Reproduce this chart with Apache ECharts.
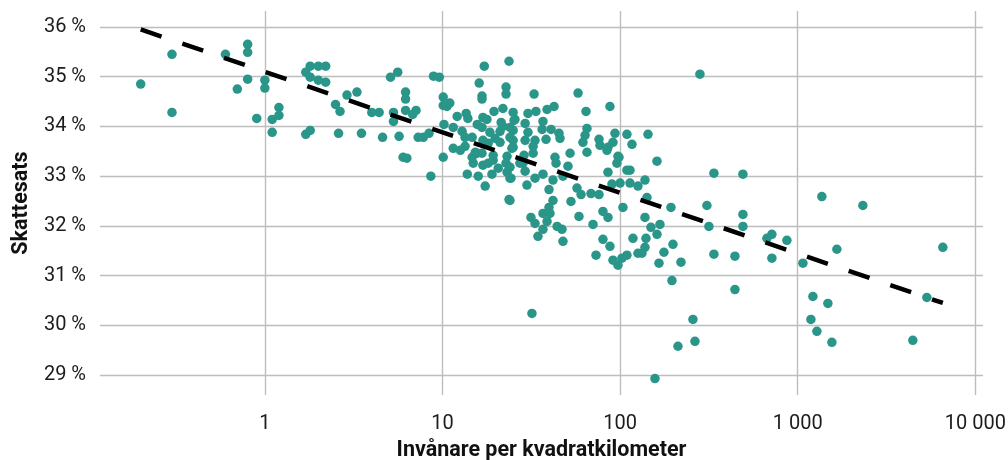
<!DOCTYPE html>
<html>
<head>
<meta charset="utf-8">
<script src="https://cdn.jsdelivr.net/npm/echarts@6/dist/echarts.min.js"></script>
<style>
  html, body { margin: 0; padding: 0; background: #fff; }
  #chart { width: 1008px; height: 460px; }
</style>
</head>
<body>
<div id="chart"></div>
<script>
// invånare per km² (x) och skattesats i % (y), en kommun per index
const density = [
  0.2, 0.3, 0.3, 0.6, 0.8, 0.8, 0.7, 0.8, 0.9, 1.0, 1.0, 1.1, 1.1, 1.2, 1.2,
  1.7, 1.8, 1.8, 2.0, 2.2, 2.0, 2.2, 1.7, 1.8, 2.5, 2.6, 2.65, 2.9, 3.3, 3.5,
  4.0, 4.4, 4.6, 5.1, 5.6, 5.3, 5.3, 5.7, 6.0, 6.3, 6.2, 6.2, 6.2, 7.1, 6.8,
  7.8, 7.3, 8.4, 8.9, 9.6, 17.2, 23.7, 16.1, 22.8, 22.8, 16.7, 16.7, 10.1, 10.1, 11.0,
  10.6, 21.9, 19.5, 13.6, 12.1, 13.9, 16.9, 17.8, 15.7, 16.7, 25.0, 25.6, 21.4, 24.0, 21.9,
  10.2, 11.5, 12.9, 14.7, 13.4, 18.5, 21.1, 19.8, 16.9, 18.1, 21.1, 24.0, 25.0, 11.5, 13.4,
  15.3, 16.7, 10.1, 19.3, 23.1, 8.6, 12.6, 14.7, 15.7, 14.9, 13.8, 15.9, 16.9, 18.1, 19.3,
  19.0, 17.4, 20.6, 22.8, 23.1, 24.3, 23.7, 27.3, 32.8, 58.0, 64.3, 87.7, 30.3, 33.6, 38.8,
  42.5, 25.3, 29.2, 36.8, 25.0, 30.3, 36.4, 40.9, 45.3, 45.9, 25.0, 29.2, 33.2, 38.3, 65.1,
  63.5, 61.8, 76.1, 77.1, 85.5, 91.2, 93.6, 109.3, 116.7, 24.6, 32.4, 28.8, 32.4, 43.0, 52.3,
  65.1, 84.4, 97.3, 28.4, 29.2, 24.0, 24.0, 29.9, 33.2, 36.8, 41.9, 39.8, 47.7, 50.9, 43.6,
  41.9, 39.8, 36.8, 31.5, 33.2, 38.8, 40.3, 36.8, 34.5, 44.2, 47.1, 47.7, 52.9, 57.2, 60.3,
  68.6, 76.1, 58.7, 70.4, 80.1, 85.5, 24.0, 85.5, 96.0, 98.6, 109.3, 90.0, 100, 113.7, 126.1,
  103.8, 118.2, 126.1, 80.1, 87.7, 73.2, 91.2, 102.5, 109.3, 97.3, 31.9, 157.2, 143.6, 161.4, 113.7,
  337.6, 491.7, 138.1, 141.7, 193.4, 308.3, 316.4, 138.1, 149.2, 167.7, 161.4, 139.9, 138.1, 132.8, 176.6,
  198.5, 220.2, 165.6, 196.0, 337.6, 443.3, 443.3, 491.7, 491.7, 281.6, 1368, 2328, 670.9, 715.7, 869.6,
  715.7, 1070, 1662, 6565, 1218, 1479, 5335, 257.2, 1187, 211.8, 264.0, 1283, 1558, 4449
];
const taxRate = [
  34.85, 35.45, 34.28, 35.45, 35.65, 35.49, 34.75, 34.95, 34.16, 34.93, 34.77, 34.14, 33.88, 34.38, 34.22,
  35.09, 35.21, 34.99, 35.21, 35.21, 34.93, 34.89, 33.84, 33.92, 34.44, 33.86, 34.30, 34.63, 34.69, 33.86,
  34.28, 34.28, 33.78, 34.99, 35.09, 34.28, 34.10, 33.80, 33.38, 33.36, 34.69, 34.55, 34.32, 34.32, 34.24,
  33.78, 33.78, 33.86, 35.01, 34.99, 35.21, 35.31, 34.87, 34.79, 34.65, 34.61, 34.55, 34.59, 34.42, 34.47,
  34.40, 34.36, 34.30, 34.26, 34.20, 34.16, 34.18, 34.14, 34.04, 33.98, 34.28, 34.14, 34.08, 33.98, 34.00,
  34.04, 33.98, 33.90, 33.78, 33.78, 33.88, 33.90, 33.76, 33.72, 33.66, 33.68, 33.78, 33.58, 33.56, 33.60,
  33.48, 33.46, 33.38, 33.42, 33.40, 33.00, 33.52, 33.38, 33.46, 33.26, 33.04, 33.00, 33.22, 33.26, 33.32,
  33.04, 32.80, 33.16, 33.26, 33.08, 32.96, 32.53, 33.26, 34.65, 34.67, 34.30, 34.40, 34.26, 34.30, 34.34,
  34.40, 34.12, 34.06, 34.10, 33.92, 33.88, 33.94, 33.94, 33.86, 33.76, 33.72, 33.72, 33.72, 33.74, 33.96,
  33.82, 33.68, 33.74, 33.62, 33.58, 33.68, 33.86, 33.84, 33.64, 33.56, 33.60, 33.42, 33.46, 33.38, 33.46,
  33.48, 33.52, 33.40, 33.26, 33.10, 33.18, 32.96, 32.82, 32.96, 33.04, 32.92, 32.73, 33.00, 33.20, 33.26,
  32.51, 32.37, 32.25, 32.17, 32.05, 32.09, 32.25, 31.93, 31.79, 31.99, 31.93, 31.69, 32.49, 32.76, 32.63,
  32.65, 32.63, 32.19, 32.03, 32.29, 32.17, 32.51, 33.08, 33.26, 33.38, 33.12, 32.84, 32.86, 32.86, 32.80,
  32.37, 31.75, 31.45, 31.73, 31.59, 31.41, 31.31, 31.35, 31.41, 31.21, 30.24, 28.93, 33.84, 33.30, 33.12,
  33.06, 33.04, 32.92, 32.57, 32.37, 32.41, 31.99, 32.17, 31.97, 32.03, 31.83, 31.75, 31.57, 31.45, 31.47,
  31.63, 31.27, 31.25, 30.90, 31.43, 31.39, 30.72, 32.23, 31.99, 35.05, 32.59, 32.41, 31.75, 31.83, 31.71,
  31.35, 31.25, 31.53, 31.57, 30.58, 30.44, 30.56, 30.12, 30.12, 29.58, 29.68, 29.88, 29.66, 29.70
];

// regressionslinjen (ändpunkter)
const trendX = [0.2, 6565];
const trendY = [35.95, 30.45];

const xTicks = [1, 10, 100, 1000, 10000];
const xTickLabels = ['1', '10', '100', '1 000', '10 000'];
const yTicks = [29, 30, 31, 32, 33, 34, 35, 36];

const chart = echarts.init(document.getElementById('chart'), null, { renderer: 'canvas' });

const gridColor = '#bdbdbd';
const textColor = '#1c1c1c';

chart.setOption({
  animation: false,
  backgroundColor: '#fff',
  textStyle: { fontFamily: 'Roboto, "Noto Sans", sans-serif' },
  grid: { left: 100, right: 25, top: 11, bottom: 65, containLabel: false, outerBoundsMode: 'none' },
  xAxis: {
    type: 'log',
    logBase: 10,
    min: 0.118,
    max: 11050,
    name: 'Invånare per kvadratkilometer',
    nameLocation: 'middle',
    nameGap: 45,
    nameTextStyle: { fontSize: 21.5, fontWeight: 'bold', color: '#111', fontFamily: 'Roboto' },
    axisLine: { show: false },
    axisTick: { show: false },
    axisLabel: {
      fontSize: 20, color: textColor, margin: 19, fontFamily: 'Roboto',
      showMinLabel: false, showMaxLabel: false,
      formatter: v => {
        const i = xTicks.findIndex(t => Math.abs(Math.log10(v) - Math.log10(t)) < 1e-6);
        return i < 0 ? '' : xTickLabels[i];
      }
    },
    splitLine: { show: true, showMinLine: false, showMaxLine: false, lineStyle: { color: gridColor, width: 1.4 } }
  },
  yAxis: {
    type: 'value',
    min: 28.6,
    max: 36.32,
    minInterval: 1,
    maxInterval: 1,
    name: 'Skattesats',
    nameLocation: 'middle',
    nameRotate: 90,
    nameGap: 66,
    nameTextStyle: { fontSize: 21.5, fontWeight: 'bold', color: '#111', fontFamily: 'Roboto' },
    axisLine: { show: false },
    axisTick: { show: false },
    axisLabel: {
      fontSize: 20, color: textColor, margin: 14, fontFamily: 'Roboto',
      showMinLabel: false, showMaxLabel: false,
      formatter: v => {
        const t = yTicks.find(k => Math.abs(k - v) < 1e-6);
        return t === undefined ? '' : t + ' %';
      }
    },
    splitLine: { show: true, showMinLine: false, showMaxLine: false, lineStyle: { color: gridColor, width: 1.4 } }
  },
  series: [
    {
      type: 'scatter',
      data: density.map((d, i) => [d, taxRate[i]]),
      symbolSize: 9.5,
      itemStyle: { color: '#2a968a', borderWidth: 0, opacity: 1 },
      z: 2
    },
    {
      type: 'line',
      data: trendX.map((d, i) => [d, trendY[i]]),
      symbol: 'none',
      silent: true,
      lineStyle: { color: '#000', width: 4.5, type: [22, 22], cap: 'butt' },
      z: 3
    }
  ]
});
</script>
</body>
</html>
